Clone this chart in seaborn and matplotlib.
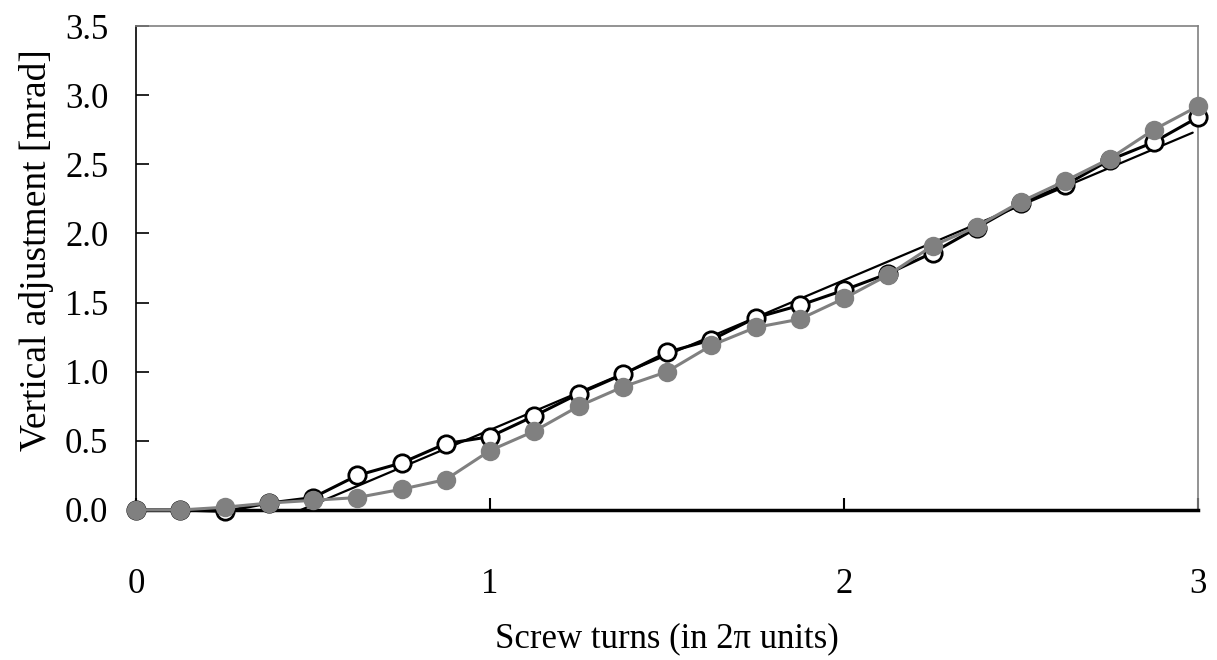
import numpy as np
import pandas as pd
import seaborn as sns
import matplotlib.pyplot as plt

turns = [0, 0.125, 0.25, 0.375, 0.5, 0.625, 0.75, 0.875, 1.0, 1.125, 1.25, 1.375, 1.5,
         1.625, 1.75, 1.875, 2.0, 2.125, 2.25, 2.375, 2.5, 2.625, 2.75, 2.875, 3.0]
open_adj = [0.0, 0.0, -0.01, 0.05, 0.09, 0.25, 0.34, 0.48, 0.53, 0.68, 0.84, 0.98, 1.14,
            1.23, 1.39, 1.48, 1.59, 1.71, 1.86, 2.04, 2.22, 2.35, 2.53, 2.66, 2.84]
filled_adj = [0.0, 0.0, 0.02, 0.05, 0.07, 0.09, 0.15, 0.22, 0.43, 0.57, 0.75, 0.89, 1.00,
              1.19, 1.32, 1.38, 1.53, 1.70, 1.91, 2.05, 2.23, 2.38, 2.54, 2.75, 2.92]

# linear fit shown as a thin straight line
fit_slope = 1.083
fit_intercept = -0.504
fit_x = [0.465, 2.985]

df = pd.DataFrame({"turns": turns, "open": open_adj, "filled": filled_adj})
fit_df = pd.DataFrame({"x": fit_x})
fit_df["y"] = fit_slope * fit_df["x"] + fit_intercept

sns.set_style("white")
plt.rcParams["font.family"] = ["Liberation Serif", "DejaVu Serif"]
plt.rcParams["text.color"] = "black"
plt.rcParams["axes.labelcolor"] = "black"
plt.rcParams["xtick.color"] = "black"
plt.rcParams["ytick.color"] = "black"

fig = plt.figure(figsize=(12.17, 6.6), dpi=100)
ax = fig.add_axes([0.1118, 0.2273, 0.8726, 0.7333])

sns.lineplot(data=fit_df, x="x", y="y", ax=ax, color="black", linewidth=1.6, zorder=2)
sns.lineplot(data=df, x="turns", y="open", ax=ax, color="black", linewidth=2.2,
             marker="o", markersize=12.5, markerfacecolor="white",
             markeredgecolor="black", markeredgewidth=2, zorder=3, clip_on=False)
sns.lineplot(data=df, x="turns", y="filled", ax=ax, color="#808080", linewidth=2.2,
             marker="o", markersize=14, markerfacecolor="#808080",
             markeredgecolor="#808080", markeredgewidth=0, zorder=4, clip_on=False)

ax.set_xlim(0, 3)
ax.set_ylim(0, 3.5)
ax.set_xticks([0, 1, 2, 3])
ax.set_xticklabels(["0", "1", "2", "3"])
ax.set_yticks(np.arange(0, 3.51, 0.5))
ax.set_yticklabels([f"{v:.1f}" for v in np.arange(0, 3.51, 0.5)])
ax.tick_params(axis="x", direction="in", length=9, width=1.5, pad=42, labelsize=25,
               color="black", labelcolor="black")
ax.tick_params(axis="y", direction="in", length=9, width=1.2, pad=20, labelsize=25,
               color="black", labelcolor="black")
ax.tick_params(bottom=True, left=True)

for side in ["top", "right"]:
    ax.spines[side].set_color("#808080")
    ax.spines[side].set_linewidth(1.2)
ax.spines["left"].set_color("black")
ax.spines["left"].set_linewidth(1.2)
ax.spines["bottom"].set_color("black")
ax.spines["bottom"].set_linewidth(2.5)

ax.set_xlabel("Screw turns (in 2π units)", fontsize=25, labelpad=15, color="black")
ax.set_ylabel("Vertical adjustment [mrad]", fontsize=27, color="black")
ax.yaxis.set_label_coords(-0.077, 0.537)

fig.savefig("out.png", dpi=100)
